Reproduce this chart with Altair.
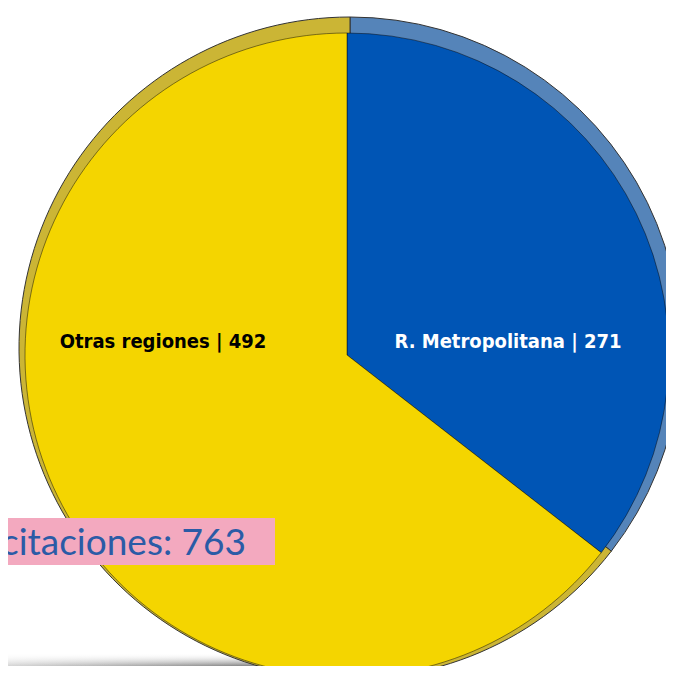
import altair as alt
import pandas as pd

# Data
categorias = ["R. Metropolitana", "Otras regiones"]
valores = [271, 492]
orden = [0, 1]
total_texto = "Total licitaciones: " + str(sum(valores))

df = pd.DataFrame({"categoria": categorias, "valor": valores, "orden": orden})

W, H = 658, 658
CX, CY, R = 342, 340, 331          # outer (rim) pie
ICX, ICY, IR = 339, 347, 322        # inner (face) pie

base = alt.Chart(df)

rim = base.mark_arc(radius=R, stroke="#333333", strokeWidth=1).encode(
    theta=alt.Theta("valor:Q", stack=True),
    order=alt.Order("orden:Q"),
    color=alt.Color("categoria:N",
                    scale=alt.Scale(domain=categorias, range=["#5584B9", "#CBB535"]),
                    legend=None),
    x=alt.value(CX), y=alt.value(CY),
)

face = base.mark_arc(radius=IR, stroke="#000000", strokeWidth=1, strokeOpacity=0.45).encode(
    theta=alt.Theta("valor:Q", stack=True),
    order=alt.Order("orden:Q"),
    color=alt.Color("categoria:N",
                    scale=alt.Scale(domain=categorias, range=["#0055B5", "#F4D500"]),
                    legend=None),
    x=alt.value(ICX), y=alt.value(ICY),
)

shadow = alt.Chart(df).mark_rect(
    color=alt.Gradient(gradient="linear", x1=0, x2=1, y1=0, y2=0,
                       stops=[alt.GradientStop(offset=0, color="#d4d4d4"),
                              alt.GradientStop(offset=1, color="#666666")])
).encode(x=alt.value(0), x2=alt.value(330), y=alt.value(645), y2=alt.value(H))

shadow_fade = alt.Chart(df).mark_rect(
    color=alt.Gradient(gradient="linear", x1=0, x2=0, y1=0, y2=1,
                       stops=[alt.GradientStop(offset=0, color="rgba(255,255,255,1)"),
                              alt.GradientStop(offset=1, color="rgba(255,255,255,0)")])
).encode(x=alt.value(0), x2=alt.value(330), y=alt.value(645), y2=alt.value(H))

label_font = "Liberation Sans Narrow, DejaVu Sans Condensed, sans-serif"

lab_otras = base.transform_filter(alt.datum.categoria == "Otras regiones").transform_calculate(
    txt=alt.datum.categoria + " | " + alt.datum.valor
).mark_text(font=label_font, fontWeight="bold", fontSize=20, color="#000000",
            align="center", baseline="middle").encode(
    text="txt:N", x=alt.value(155), y=alt.value(334))

lab_rm = base.transform_filter(alt.datum.categoria == "R. Metropolitana").transform_calculate(
    txt=alt.datum.categoria + " | " + alt.datum.valor
).mark_text(font=label_font, fontWeight="bold", fontSize=20, color="#ffffff",
            align="center", baseline="middle").encode(
    text="txt:N", x=alt.value(500), y=alt.value(334))

box = alt.Chart(pd.DataFrame({"t": [total_texto]})).mark_rect(color="#F3A9BF").encode(
    x=alt.value(0), x2=alt.value(267), y=alt.value(510), y2=alt.value(557))

box_text = alt.Chart(pd.DataFrame({"t": [total_texto]})).mark_text(
    font="Lato, Open Sans, sans-serif", fontSize=37, color="#2B5BA6",
    align="right", baseline="alphabetic").encode(
    text="t:N", x=alt.value(238), y=alt.value(547))

chart = alt.layer(shadow, shadow_fade, rim, face, lab_otras, lab_rm, box, box_text).resolve_scale(
    color="independent"
).properties(
    width=W, height=H, padding=0,
    autosize=alt.AutoSizeParams(type="none"),
).configure_view(strokeWidth=0)

chart.save("out.html", embed_options={"renderer": "svg", "actions": False})
